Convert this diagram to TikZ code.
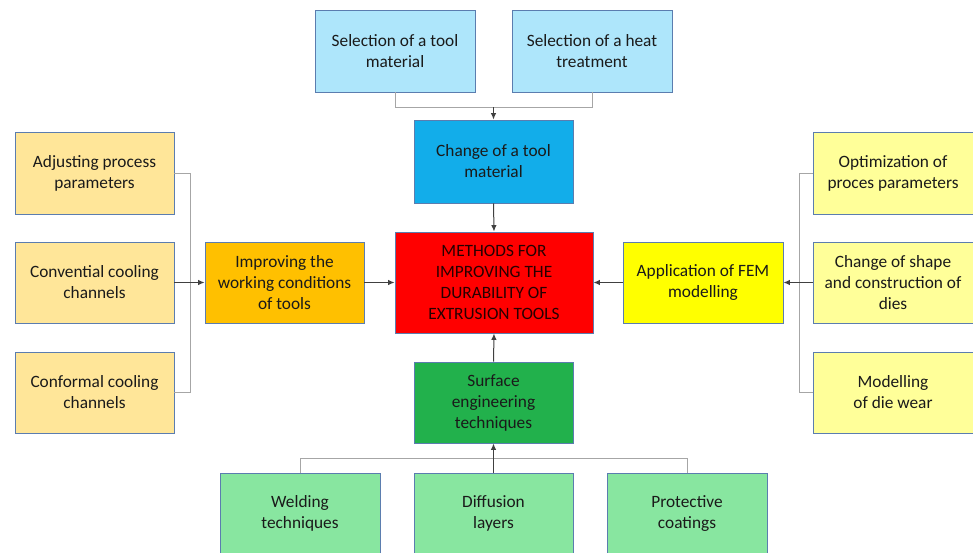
\documentclass[tikz,border=0pt]{standalone}
\usepackage{fontspec}
\setmainfont{Carlito}
\usetikzlibrary{arrows.meta}
\definecolor{bord}{HTML}{5B7DAF}
\definecolor{cLB}{HTML}{AEE6FB}
\definecolor{cCB}{HTML}{12ADEA}
\definecolor{cRed}{HTML}{FF0000}
\definecolor{cOr}{HTML}{FFC000}
\definecolor{cLOr}{HTML}{FFE699}
\definecolor{cYe}{HTML}{FFFF00}
\definecolor{cLYe}{HTML}{FFFF99}
\definecolor{cGr}{HTML}{22B14C}
\definecolor{cLGr}{HTML}{88E6A0}
\definecolor{busgrey}{HTML}{A6A6A6}
\definecolor{arrdark}{HTML}{404040}
\definecolor{txt}{HTML}{1A1A1A}
\tikzset{
  box/.style={draw=bord, line width=0.9pt, rectangle, inner sep=0pt, align=center,
    text=txt, font=\fontsize{17.3}{21}\selectfont},
  sbox/.style={box, minimum width=160pt, minimum height=82pt},
  bus/.style={draw=busgrey, line width=1pt},
  arr/.style={draw=arrdark, line width=1pt, -{Latex[length=6.5pt,width=5.5pt]}}
}
\begin{document}
\begin{tikzpicture}[x=1pt,y=-1pt]
\useasboundingbox (0,0) rectangle (973,552);
\clip (0,0) rectangle (973,552);
\fill[white] (0,0) rectangle (973,552);
% top
\node[sbox, fill=cLB] (sel1) at (395,51) {Selection of a tool\\material};
\node[sbox, fill=cLB] (sel2) at (592,51) {Selection of a heat\\treatment};
\node[sbox, fill=cCB, minimum width=159pt, minimum height=83pt] (change) at (493.5,161.5) {Change of a tool\\material};
% centre
\node[box, fill=cRed, minimum width=198pt, minimum height=101pt, text=black!85!red] (center) at (494,282.5) {METHODS FOR\\IMPROVING THE\\DURABILITY OF\\EXTRUSION TOOLS};
% left
\node[sbox, fill=cLOr, minimum width=159pt] (left1) at (94.5,173) {Adjusting process\\parameters};
\node[sbox, fill=cLOr, minimum width=159pt, minimum height=81pt] (left2) at (94.5,282.5) {Convential cooling\\channels};
\node[sbox, fill=cLOr, minimum width=159pt, minimum height=81pt] (left3) at (94.5,392.5) {Conformal cooling\\channels};
\node[sbox, fill=cOr, minimum width=159pt, minimum height=81pt] (improve) at (284.5,282.5) {Improving the\\working conditions\\of tools};
% right
\node[sbox, fill=cLYe] (right1) at (893,173) {Optimization of\\proces parameters};
\node[sbox, fill=cLYe, minimum height=81pt] (right2) at (893,282.5) {Change of shape\\and construction of\\dies};
\node[sbox, fill=cLYe, minimum height=81pt] (right3) at (893,392.5) {Modelling\\of die wear};
\node[sbox, fill=cYe, minimum height=81pt] (fem) at (703,282.5) {Application of FEM\\modelling};
% bottom
\node[sbox, fill=cGr, minimum width=159pt, minimum height=81pt] (surface) at (493.5,402.5) {Surface\\engineering\\techniques};
\node[sbox, fill=cLGr, minimum height=80pt] (weld) at (300,513) {Welding\\techniques};
\node[sbox, fill=cLGr, minimum width=159pt, minimum height=80pt] (diff) at (493.5,513) {Diffusion\\layers};
\node[sbox, fill=cLGr, minimum height=80pt] (prot) at (687,513) {Protective\\coatings};
% connectors top
\coordinate (t1) at (395,107);
\coordinate (t2) at (592,107);
\coordinate (tj) at (493.5,107);
\draw[bus] (sel1.south) -- (t1) -- (t2) -- (sel2.south);
\draw[arr] (tj) -- (change.north);
\draw[arr] (change.south) -- (center.north);
% connectors left
\coordinate (lb1) at (190,173);
\coordinate (lb3) at (190,392.5);
\draw[bus] (left1.east) -- (lb1) -- (lb3) -- (left3.east);
\draw[arr] (left2.east) -- (improve.west);
\draw[arr] (improve.east) -- (center.west);
% connectors right
\coordinate (rb1) at (799,173);
\coordinate (rb3) at (799,392.5);
\draw[bus] (right1.west) -- (rb1) -- (rb3) -- (right3.west);
\draw[arr] (right2.west) -- (fem.east);
\draw[arr] (fem.west) -- (center.east);
% connectors bottom
\coordinate (b1) at (300,458);
\coordinate (b3) at (687,458);
\draw[bus] (weld.north) -- (b1) -- (b3) -- (prot.north);
\draw[arr] (diff.north) -- (surface.south);
\draw[arr] (surface.north) -- (center.south);
\end{tikzpicture}
\end{document}
